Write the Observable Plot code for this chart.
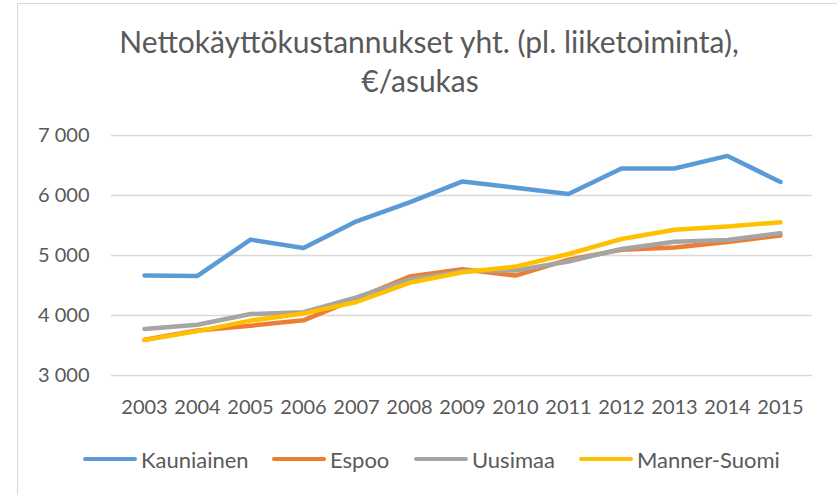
<!DOCTYPE html>
<html>
<head>
<meta charset="utf-8">
<script src="https://cdn.jsdelivr.net/npm/d3@7"></script>
<script src="https://cdn.jsdelivr.net/npm/@observablehq/plot@0.6"></script>
<style>
  html, body { margin: 0; padding: 0; background: #fff; }
  #wrap { position: relative; width: 837px; height: 495px; overflow: hidden; font-family: Lato, "Open Sans", sans-serif; color: #595959; }
  #frame { position: absolute; left: 17px; top: 3px; width: 900px; height: 600px; border-left: 1.5px solid #D9D9D9; border-top: 1.5px solid #D9D9D9; }
  .title { position: absolute; white-space: nowrap; font-size: 30px; transform: translateX(-50%); line-height: 1; }
  #chart { position: absolute; left: 0; top: 110px; }
  #legend { position: absolute; left: 0; top: 447px; width: 837px; height: 24px; }
  .item { position: absolute; top: 0; height: 24px; display: flex; align-items: center; font-size: 22px; white-space: nowrap; }
  .sw { display: inline-block; width: 54px; height: 4.5px; border-radius: 3px; margin-right: 4px; }
</style>
</head>
<body>
<div id="wrap">
  <div id="frame"></div>
  <div class="title" style="left:429px; top:26px;">Nettokäyttökustannukset yht. (pl. liiketoiminta),</div>
  <div class="title" style="left:420px; top:65px;">€/asukas</div>
  <div id="chart"></div>
  <div id="legend"></div>
</div>
<script>
const years = ["2003","2004","2005","2006","2007","2008","2009","2010","2011","2012","2013","2014","2015"];
const seriesNames = ["Kauniainen", "Espoo", "Uusimaa", "Manner-Suomi"];
const seriesColors = ["#5B9BD5", "#ED7D31", "#A5A5A5", "#FFC000"];
const kauniainen = [4665, 4660, 5265, 5125, 5570, 5885, 6235, 6130, 6025, 6450, 6450, 6660, 6225];
const espoo      = [3595, 3750, 3830, 3920, 4280, 4650, 4770, 4665, 4930, 5095, 5135, 5225, 5335];
const uusimaa    = [3775, 3845, 4025, 4055, 4300, 4600, 4740, 4750, 4900, 5110, 5230, 5260, 5370];
const mannerSuomi= [3590, 3740, 3915, 4035, 4225, 4545, 4720, 4815, 5025, 5275, 5430, 5485, 5555];
const yTicks = [3000, 4000, 5000, 6000, 7000];

const seriesValues = [kauniainen, espoo, uusimaa, mannerSuomi];
const fmt = d => d3.format(",")(d).replace(/,/g, " ");

const lineMarks = seriesNames.map((name, i) => {
  const rows = years.map((y, j) => ({year: y, value: seriesValues[i][j], series: name}));
  return Plot.line(rows, {x: "year", y: "value", stroke: "series", strokeWidth: 4.5, strokeLinecap: "round", strokeLinejoin: "round"});
});

const chart = Plot.plot({
  width: 837,
  height: 310,
  marginTop: 25,
  marginBottom: 45,
  marginLeft: 111,
  marginRight: 25,
  style: {fontFamily: "Lato, 'Open Sans', sans-serif", fontSize: "20px", color: "#595959", background: "transparent", overflow: "visible"},
  x: {type: "point", domain: years, padding: 0.5, label: null},
  y: {domain: [3000, 7000], label: null},
  color: {domain: seriesNames, range: seriesColors},
  marks: [
    Plot.ruleY(yTicks, {stroke: "#D9D9D9", strokeWidth: 1.5}),
    Plot.axisY({ticks: yTicks, tickSize: 0, tickPadding: 22, tickFormat: fmt, fontSize: 20, label: null}),
    Plot.axisX({tickSize: 0, tickPadding: 24, fontSize: 20, label: null}),
    ...lineMarks
  ]
});
document.getElementById("chart").appendChild(chart);

const legendPos = [83, 272, 414, 579];
const legend = document.getElementById("legend");
seriesNames.forEach((name, i) => {
  const it = document.createElement("div");
  it.className = "item";
  it.style.left = legendPos[i] + "px";
  const sw = document.createElement("span");
  sw.className = "sw";
  sw.style.background = seriesColors[i];
  it.appendChild(sw);
  it.appendChild(document.createTextNode(name));
  legend.appendChild(it);
});
</script>
</body>
</html>
